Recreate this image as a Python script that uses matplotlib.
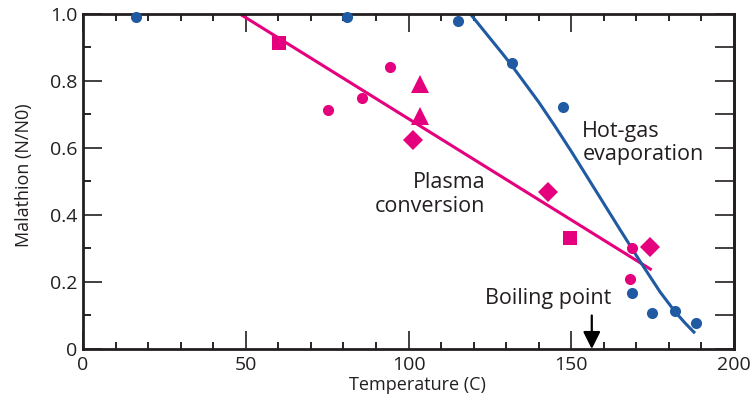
import numpy as np
import matplotlib
matplotlib.use("Agg")
import matplotlib.pyplot as plt
from matplotlib.ticker import MultipleLocator

plt.rcParams['font.family'] = ['Open Sans', 'DejaVu Sans']

PINK = '#e5007d'
BLUE = '#1f5aa2'
INK = '#231f20'

# hot-gas evaporation data (blue circles)
hot_x = [16.3, 81.1, 115.1, 131.7, 147.6, 168.6, 174.7, 181.9, 188.3]
hot_y = [0.99, 0.99, 0.979, 0.853, 0.723, 0.166, 0.106, 0.114, 0.077]

# hot-gas trend curve
hot_curve_x = [119.0, 122.0, 125.5, 128.5, 131.2, 135.0, 140.0, 145.0, 150.0,
               155.0, 160.0, 165.0, 171.1, 177.3, 181.9, 185.0, 188.0]
hot_curve_y = [1.0, 0.964, 0.922, 0.886, 0.853, 0.803, 0.737, 0.665, 0.590,
               0.512, 0.434, 0.356, 0.262, 0.170, 0.111, 0.077, 0.047]

# plasma conversion data, by marker shape
pl_circ_x = [75.2, 85.6, 94.3, 168.6, 168.0]
pl_circ_y = [0.713, 0.748, 0.841, 0.302, 0.209]
pl_sq_x = [60.3, 149.6]
pl_sq_y = [0.914, 0.330]
pl_tri_x = [103.5, 103.5]
pl_tri_y = [0.79, 0.696]
pl_dia_x = [101.5, 143.0, 174.2]
pl_dia_y = [0.624, 0.468, 0.305]

# plasma trend line end points
pl_line_x = [48.2, 174.7]
pl_line_y = [1.0, 0.236]

fig = plt.figure(figsize=(7.51, 4.11), dpi=100)
ax = fig.add_axes([0.1105, 0.1509, 0.8669, 0.8151])

ax.plot(pl_line_x, pl_line_y, color=PINK, lw=2.2, solid_capstyle='butt', zorder=2)
ax.plot(hot_curve_x, hot_curve_y, color=BLUE, lw=2.2, solid_capstyle='butt',
        solid_joinstyle='round', zorder=2)

ax.plot(hot_x, hot_y, 'o', color=BLUE, ms=8, mew=0, clip_on=False, zorder=3)
ax.plot(pl_circ_x, pl_circ_y, 'o', color=PINK, ms=8, mew=0, zorder=3)
ax.plot(pl_sq_x, pl_sq_y, 's', color=PINK, ms=10, mew=0, zorder=3)
ax.plot(pl_tri_x, pl_tri_y, '^', color=PINK, ms=13, mew=0, zorder=3)
ax.plot(pl_dia_x, pl_dia_y, 'D', color=PINK, ms=10, mew=0, zorder=3)

ax.text(123.5, 0.461, 'Plasma\nconversion', ha='right', va='center',
        multialignment='right', fontsize=15.5, color=INK, linespacing=1.15)
ax.text(153.4, 0.615, 'Hot-gas\nevaporation', ha='left', va='center',
        fontsize=15.5, color=INK, linespacing=1.15)
ax.text(142.9, 0.152, 'Boiling point', ha='center', va='center',
        fontsize=15.5, color=INK)
ax.annotate('', xy=(156.3, 0.0), xytext=(156.3, 0.1),
            arrowprops=dict(arrowstyle='-|>', color='black', lw=1.6,
                            mutation_scale=26, shrinkA=0, shrinkB=0))

ax.set_xlim(0, 200)
ax.set_ylim(0, 1.0)
ax.xaxis.set_major_locator(MultipleLocator(50))
ax.xaxis.set_minor_locator(MultipleLocator(10))
ax.set_yticks([0, 0.2, 0.4, 0.6, 0.8, 1.0])
ax.set_yticklabels(['0', '0.2', '0.4', '0.6', '0.8', '1.0'])
ax.yaxis.set_minor_locator(MultipleLocator(0.1))

ax.tick_params(axis='x', which='major', direction='in', length=13, width=1.2,
               top=True, labelsize=14, pad=5, colors=INK)
ax.tick_params(axis='x', which='minor', direction='in', length=5, width=1.2, top=True)
ax.tick_params(axis='y', which='major', direction='in', length=14, width=1.2,
               right=False, labelsize=14, pad=4, colors=INK)
ax.tick_params(axis='y', which='minor', direction='in', length=6, width=1.2, right=False)

sec = ax.secondary_yaxis('right')
sec.yaxis.set_major_locator(MultipleLocator(0.1))
sec.tick_params(direction='in', length=14, width=1.2, labelright=False, colors=INK)
sec.spines['right'].set_linewidth(2)
sec.spines['right'].set_color(INK)

for s in ax.spines.values():
    s.set_linewidth(2)
    s.set_color(INK)

ax.set_xlabel('Temperature (C)', fontsize=13, color=INK)
ax.set_ylabel('Malathion (N/N0)', fontsize=13, color=INK)
ax.xaxis.set_label_coords(0.514, -0.108, transform=ax.transAxes)
ax.yaxis.set_label_coords(-0.09, 0.519, transform=ax.transAxes)
ax.xaxis.label.set_va('center')
ax.yaxis.label.set_va('center')

fig.savefig('out.png', dpi=100)
